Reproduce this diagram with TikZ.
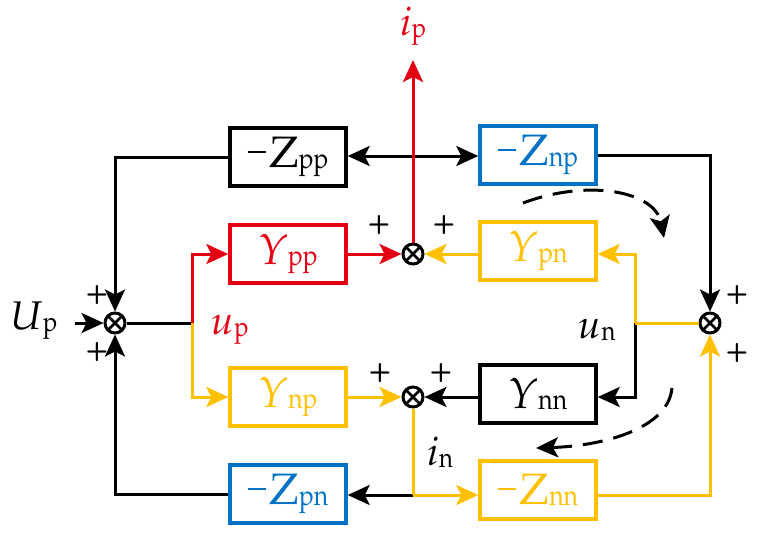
\documentclass[tikz,border=0pt]{standalone}
\usepackage{mathpazo}
\usepackage{graphicx}
\usetikzlibrary{arrows.meta}
\definecolor{cred}{RGB}{228,0,18}
\definecolor{cblue}{RGB}{0,114,198}
\definecolor{cyel}{RGB}{255,192,0}
\newcommand{\mns}{\rule[15pt]{18pt}{2pt}\hspace{4pt}}
\newcommand{\bZ}{{\fontsize{44}{48}\selectfont$\mathrm{Z}$}}
\newcommand{\bY}{{\fontsize{43}{46}\selectfont$Y$}}
\newcommand{\sbs}[1]{\raisebox{-1pt}{\scalebox{0.85}[1]{\fontsize{29}{32}\selectfont$\mathrm{#1}$}}}
\newcommand{\lbv}[2]{{\fontsize{40}{42}\selectfont$#1$}\raisebox{-2pt}{\scalebox{0.85}[1]{\fontsize{28}{30}\selectfont$\mathrm{#2}$}}}
\begin{document}
\begin{tikzpicture}[x=1pt,y=-1pt, line width=3pt,
  >={Stealth[length=22pt,width=20pt,inset=5pt]},
  blk/.style={draw, line width=3.4pt, minimum width=116pt, minimum height=58pt, inner sep=0pt},
  sumj/.style={circle, draw, line width=3pt, minimum size=20pt, inner sep=0pt,
    path picture={\draw[line width=2.8pt] (path picture bounding box.north west) -- (path picture bounding box.south east) (path picture bounding box.north east) -- (path picture bounding box.south west);}},
  lbl/.style={inner sep=0pt},
  pl/.style={font=\sffamily\bfseries\fontsize{26}{26}\selectfont, inner sep=0pt},
  dsh/.style={dash pattern=on 20pt off 11pt, line width=3pt}]
\useasboundingbox (0,0) rectangle (760,546);
% blocks
\node[blk] (Zpp) at (288,157) {\mns\bZ\sbs{pp}};
\node[blk, color=cred] (Ypp) at (288,254) {\bY\sbs{pp}};
\node[blk, color=cyel] (Ynp) at (288,397) {\bY\sbs{np}};
\node[blk, color=cblue] (Zpn) at (288,494) {\mns\bZ\sbs{pn}};
\node[blk, color=cblue] (Znp) at (538,155) {\mns\bZ\sbs{np}};
\node[blk, color=cyel] (Ypn) at (538,251) {\bY\sbs{pn}};
\node[blk] (Ynn) at (538,394) {\bY\sbs{nn}};
\node[blk, color=cyel] (Znn) at (538,490) {\mns\bZ\sbs{nn}};
% junctions
\node[sumj] (L) at (115,323) {};
\node[sumj] (T) at (413,254) {};
\node[sumj] (R) at (710,323) {};
\node[sumj] (B) at (413,397) {};
% coordinates
\coordinate (Uin) at (75,323);
\coordinate (sp) at (192,323);
\coordinate (sn) at (635,323);
\coordinate (sb) at (413,495);
\coordinate (ipt) at (413,60);
\coordinate (d1a) at (523,203);
\coordinate (d1b) at (664,238);
\coordinate (d2a) at (672,388);
\coordinate (d2b) at (536,448);
% labels
\node[lbl] (Up) at (34,321) {\lbv{U}{p}};
\node[lbl, color=cred] (up) at (230,330) {\lbv{u}{p}};
\node[lbl] (un) at (597,330) {\lbv{u}{n}};
\node[lbl] (in) at (440,452) {\lbv{i}{n}};
\node[lbl, color=cred] (ip) at (413,26) {\lbv{i}{p}};
% plus signs
\node[pl] (p1) at (97,295) {+};
\node[pl] (p2) at (97,352) {+};
\node[pl] (p3) at (379,225) {+};
\node[pl] (p4) at (444,225) {+};
\node[pl] (p5) at (737,295) {+};
\node[pl] (p6) at (737,353) {+};
\node[pl] (p7) at (380,373) {+};
\node[pl] (p8) at (441,373) {+};
% black connectors
\draw[->] (Uin) -- (L);
\draw (L) -- (sp);
\draw[<->] (Zpp.east |- 0,156) -- (Znp.west |- 0,156);
\draw[->] (Zpp.west) -| (L);
\draw[->] (Zpn.west) -| (L);
\draw[->] (Znp.east) -| (R);
\draw[->] (sn) |- (Ynn.east |- B);
\draw[->] (Ynn.west |- B) -- (B);
\draw[->] (sb) -- (Zpn.east |- sb);
% red
\draw[cred, ->] (sp) |- (Ypp.west |- T);
\draw[cred, ->] (Ypp.east |- T) -- (T);
\draw[cred, ->] (T) -- (ipt);
% yellow
\draw[cyel, ->] (sp) |- (Ynp.west |- B);
\draw[cyel, ->] (Ynp.east |- B) -- (B);
\draw[cyel, ->] (Ypn.west |- T) -- (T);
\draw[cyel] (R) -- (sn);
\draw[cyel, ->] (sn) |- (Ypn.east |- T);
\draw[cyel] (B) -- (sb);
\draw[cyel, ->] (sb) -- (Znn.west |- sb);
\draw[cyel, ->] (Znn.east |- sb) -| (R);
% dashed arcs
\draw[dsh, ->] (d1a) .. controls (590,178) and (655,192) .. (d1b);
\draw[dsh, ->] (d2a) .. controls (668,430) and (600,446) .. (d2b);
\end{tikzpicture}
\end{document}
